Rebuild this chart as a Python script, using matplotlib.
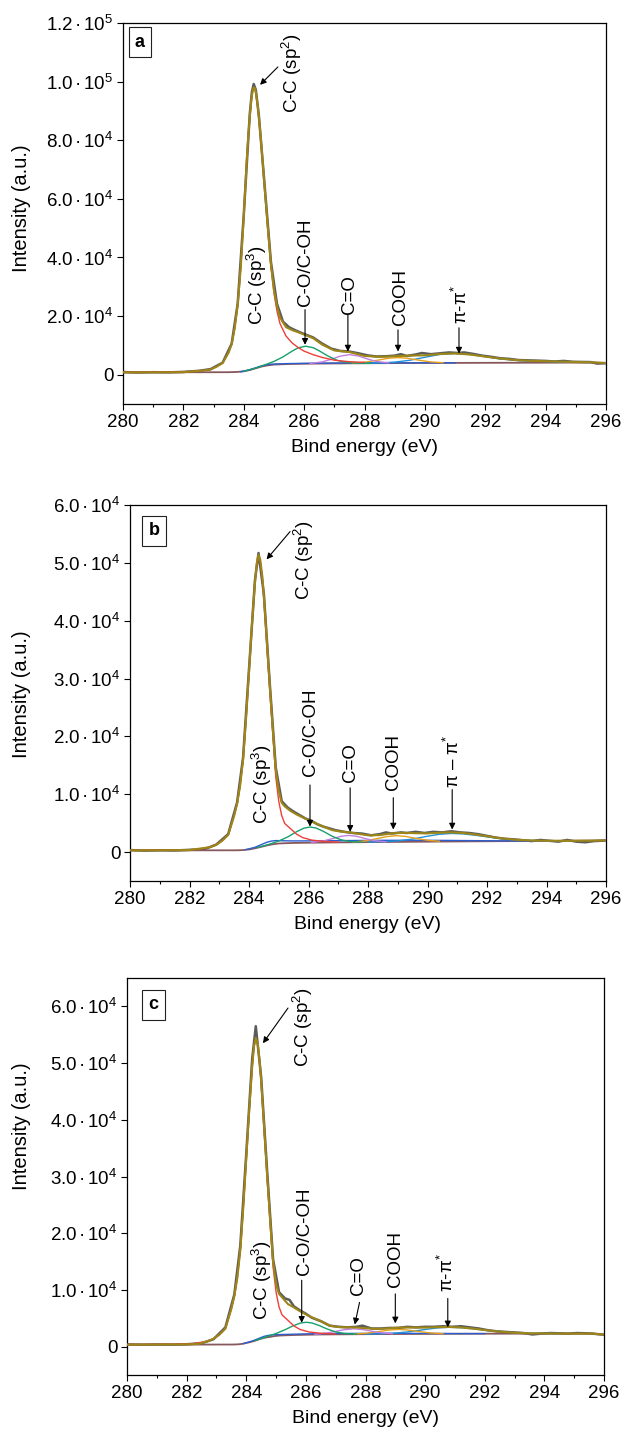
import matplotlib
matplotlib.use('Agg')
import matplotlib.pyplot as plt
import numpy as np
from matplotlib.ticker import MultipleLocator, FuncFormatter

plt.rcParams['font.family'] = ['Liberation Sans', 'DejaVu Sans']
plt.rcParams['mathtext.fontset'] = 'custom'
plt.rcParams['mathtext.rm'] = 'Liberation Sans'
plt.rcParams['mathtext.it'] = 'Liberation Sans:italic'
plt.rcParams['mathtext.bf'] = 'Liberation Sans:bold'

# ---------------- panel a ----------------
A_RAW_X = [280.0, 280.5, 281.0, 281.5, 282.0, 282.5, 282.9, 283.3, 283.6, 283.8, 284.0, 284.2, 284.27,
           284.33, 284.4, 284.5, 284.7, 284.9, 285.1, 285.3, 285.5, 285.7, 285.9, 286.1, 286.3, 286.6,
           286.9, 287.2, 287.5, 287.8, 288.1, 288.4, 288.7, 289.0, 289.2, 289.4, 289.7, 289.9, 290.2,
           290.5, 290.8, 291.1, 291.3, 291.6, 291.9, 292.2, 292.5, 292.8, 293.1, 293.4, 293.7, 294.0,
           294.3, 294.6, 294.9, 295.2, 295.5, 295.7, 296.0]
A_RAW_Y = [900, 750, 850, 800, 950, 1300, 1900, 4100, 10600, 24300, 54500, 89000, 96500,
           99200, 97200, 88500, 63500, 38500, 24200, 18100, 16200, 15200, 14300, 13500, 12700, 10600,
           8900, 8100, 7900, 7300, 6600, 6200, 6300, 6500, 7000, 6400, 6900, 7400, 7000,
           7300, 7600, 7400, 7600, 7100, 6500, 6100, 5600, 5400, 5000, 4900, 4800, 4700,
           4500, 4700, 4400, 4350, 4300, 3800, 3900]
A_ENV_X = [280.0, 281.0, 282.0, 282.6, 282.9, 283.1, 283.3, 283.5, 283.6, 283.7, 283.8, 283.9, 284.0,
           284.1, 284.15, 284.2, 284.25, 284.3, 284.33, 284.37, 284.4, 284.45, 284.5, 284.55, 284.6,
           284.65, 284.7, 284.8, 284.9, 285.0, 285.1, 285.2, 285.4, 285.6, 285.8, 286.0, 286.3, 286.6,
           287.0, 287.5, 288.0, 288.5, 289.0, 289.5, 290.0, 290.5, 291.0, 291.5, 292.0, 292.5, 293.0,
           293.5, 294.0, 294.5, 295.0, 295.5, 296.0]
A_ENV_Y = [800, 800, 850, 1380, 1760, 2740, 4000, 7570, 10470, 15780, 23990, 36520, 53960,
           73370, 81500, 88040, 93800, 97200, 98000, 97700, 96300, 92800, 88000, 82300, 76000,
           69500, 62900, 49800, 37700, 29000, 23300, 19500, 16200, 15230, 14500, 13700, 12450, 10250,
           8270, 7730, 6400, 6100, 6300, 6500, 6610, 7070, 7250, 6880, 6170, 5500, 5000,
           4750, 4600, 4450, 4330, 4250, 4000]
A_SP2_X = [280.0, 281.5, 282.2, 282.6, 282.9, 283.1, 283.3, 283.5, 283.6, 283.7, 283.8, 283.9, 284.0,
           284.1, 284.15, 284.2, 284.25, 284.3, 284.33, 284.37, 284.4, 284.45, 284.5, 284.55, 284.6,
           284.65, 284.7, 284.8, 284.9, 285.0, 285.1, 285.2, 285.4, 285.6, 285.8, 286.0, 286.3, 286.6,
           287.0, 287.5, 288.0]
A_SP2_Y = [810, 880, 1080, 1380, 1760, 2740, 4000, 7570, 10470, 15780, 23990, 36520, 53950,
           73350, 81450, 88000, 93700, 97100, 97900, 97600, 96180, 92600, 87840, 82100, 75760,
           69200, 62520, 49280, 36950, 27930, 21740, 17470, 13200, 10850, 9270, 8040, 6820, 5890,
           4950, 4430, 4190]
A_SP3_X = [283.9, 284.2, 284.45, 284.6, 284.75, 284.9, 285.1, 285.5, 286.5, 288.0, 289.5, 291.0]
A_SP3_Y = [1013, 1673, 2523, 3028, 3350, 3578, 3660, 3800, 3950, 4030, 4050, 4040]
A_COH_X = [284.0, 284.4, 284.7, 285.0, 285.3, 285.6, 285.8, 286.05, 286.3, 286.5, 286.8, 287.1, 287.4, 287.8, 288.2]
A_COH_Y = [1160, 2290, 3370, 4530, 6070, 8030, 9160, 9720, 9210, 8150, 6310, 4880, 4190, 3940, 3910]
A_CO_X = [286.2, 286.6, 286.9, 287.2, 287.5, 287.8, 288.1, 288.4, 288.8]
A_CO_Y = [3840, 4375, 5260, 6335, 6850, 6375, 5360, 4515, 4040]
A_COOH_X = [287.6, 288.0, 288.4, 288.8, 289.1, 289.4, 289.8, 290.2, 290.6]
A_COOH_Y = [3945, 4255, 4885, 5615, 5850, 5635, 4945, 4355, 4095]
A_PI_X = [288.0, 288.5, 289.0, 289.5, 290.0, 290.5, 291.0, 291.5, 292.0, 292.5, 293.0, 293.5, 294.0,
          294.5, 295.0, 295.5]
A_PI_Y = [3918, 4011, 4294, 4914, 5941, 6909, 7220, 6863, 6152, 5375, 4900, 4650, 4500,
          4350, 4250, 4180]
A_BG_X = [280.0, 283.5, 283.8, 284.0, 284.2, 284.4, 284.6, 284.8, 285.0, 285.5, 286.5, 288.0, 290.0,
          292.0, 294.0, 295.5, 296.0]
A_BG_Y = [800, 850, 950, 1150, 1600, 2200, 2800, 3200, 3450, 3650, 3800, 3900, 4000,
          4050, 4100, 4140, 4000]

# ---------------- panel b ----------------
B_RAW_X = [280.0, 280.5, 281.0, 281.5, 282.0, 282.5, 282.9, 283.3, 283.6, 283.8, 284.0, 284.2, 284.32,
           284.5, 284.7, 284.9, 285.1, 285.3, 285.5, 285.7, 285.9, 286.1, 286.3, 286.5, 286.7, 286.9,
           287.2, 287.5, 287.8, 288.1, 288.4, 288.6, 288.8, 289.1, 289.3, 289.6, 289.9, 290.2, 290.5,
           290.8, 291.1, 291.4, 291.7, 292.0, 292.3, 292.6, 292.9, 293.2, 293.5, 293.8, 294.1, 294.4,
           294.7, 295.0, 295.3, 295.6, 296.0]
B_RAW_Y = [350, 250, 320, 280, 380, 500, 1300, 3100, 8600, 16300, 31600, 47000, 51700,
           44600, 29000, 14600, 8800, 7700, 7000, 6400, 5800, 5400, 4800, 4400, 4100, 3800,
           3500, 3300, 3200, 2900, 3100, 3400, 3200, 3400, 3300, 3500, 3300, 3500, 3400,
           3600, 3400, 3300, 3100, 2800, 2500, 2300, 2200, 2050, 1900, 2100, 1950, 1800,
           2100, 1800, 1700, 1900, 2000]
B_ENV_X = [280.0, 281.0, 282.0, 282.7, 282.9, 283.1, 283.3, 283.5, 283.6, 283.7, 283.8, 283.9, 284.0,
           284.1, 284.2, 284.26, 284.32, 284.38, 284.45, 284.5, 284.6, 284.7, 284.8, 284.9, 285.0,
           285.1, 285.2, 285.4, 285.6, 285.8, 286.1, 286.5, 286.8, 287.1, 287.4, 287.7, 288.0, 288.4,
           288.8, 289.2, 289.6, 290.0, 290.4, 290.8, 291.2, 291.6, 292.0, 292.5, 293.0, 293.5, 294.0,
           294.5, 295.0, 295.5, 296.0]
B_ENV_Y = [300, 300, 360, 853, 1256, 1960, 2970, 6240, 8360, 11390, 15940, 23071, 31190,
           39387, 46594, 49900, 51399, 50500, 47600, 44295, 36486, 28636, 21259, 14200, 10600,
           8500, 7900, 7100, 6500, 6000, 5300, 4400, 3791, 3529, 3392, 3133, 2897, 2936,
           3240, 3331, 3262, 3232, 3357, 3405, 3300, 3047, 2734, 2360, 2121, 2002, 1965,
           1949, 1965, 1985, 2000]
B_SP2_X = [280.0, 281.5, 282.2, 282.7, 282.9, 283.1, 283.3, 283.5, 283.6, 283.7, 283.8, 283.9, 284.0,
           284.1, 284.2, 284.26, 284.32, 284.38, 284.45, 284.5, 284.6, 284.7, 284.8, 284.9, 285.0,
           285.1, 285.2, 285.4, 285.6, 285.8, 286.1, 286.5, 287.0]
B_SP2_Y = [300, 340, 450, 853, 1256, 1960, 2970, 6240, 8360, 11390, 15940, 23040, 31130,
           39280, 46420, 49600, 51100, 50200, 47200, 43780, 35860, 27910, 20460, 12990, 8770,
           6290, 4950, 4020, 3100, 2515, 2080, 1850, 1720]
B_SP3_X = [283.9, 284.2, 284.45, 284.6, 284.75, 284.9, 285.1, 285.4, 285.8, 286.5, 287.5, 288.5,
           289.5, 290.5, 291.5, 292.5, 293.5]
B_SP3_Y = [431, 824, 1374, 1696, 1900, 1990, 1960, 1930, 1930, 1960, 2000, 2030,
           2040, 2020, 1980, 1940, 1935]
B_COH_X = [284.3, 284.7, 285.0, 285.3, 285.6, 285.85, 286.05, 286.25, 286.5, 286.8, 287.1, 287.4, 287.8]
B_COH_Y = [797, 1382, 1917, 2611, 3523, 4142, 4330, 4167, 3583, 2726, 2109, 1812, 1707]
B_CO_X = [286.1, 286.5, 286.8, 287.1, 287.35, 287.6, 287.9, 288.2, 288.6]
B_CO_Y = [1683, 1933, 2315, 2730, 2880, 2746, 2350, 1988, 1768]
B_COOH_X = [287.5, 287.9, 288.3, 288.65, 288.95, 289.25, 289.6, 290.0, 290.4]
B_COOH_Y = [1744, 1933, 2322, 2695, 2835, 2720, 2377, 2038, 1869]
B_PI_X = [288.0, 288.5, 289.0, 289.5, 290.0, 290.4, 290.8, 291.2, 291.6, 292.0, 292.5, 293.0, 293.5,
          294.0, 294.5]
B_PI_Y = [1731, 1788, 1929, 2248, 2744, 3078, 3220, 3140, 2912, 2639, 2305, 2086, 1982,
          1950, 1949]
B_BG_X = [280.0, 283.5, 283.7, 283.8, 283.9, 284.0, 284.1, 284.2, 284.32, 284.4, 284.5, 284.6, 284.7,
          284.8, 284.9, 285.0, 285.2, 285.5, 286.5, 288.0, 290.0, 292.0, 294.0, 296.0]
B_BG_Y = [300, 305, 320, 350, 400, 450, 550, 650, 800, 900, 1020, 1150, 1250,
          1350, 1420, 1480, 1530, 1580, 1650, 1720, 1800, 1870, 1930, 2000]

# ---------------- panel c ----------------
C_RAW_X = [280.0, 280.5, 281.0, 281.5, 282.0, 282.5, 282.9, 283.3, 283.6, 283.8, 284.0, 284.2, 284.32,
           284.5, 284.7, 284.9, 285.1, 285.3, 285.45, 285.6, 285.8, 286.0, 286.2, 286.5, 286.8, 287.1,
           287.4, 287.7, 287.9, 288.2, 288.5, 288.8, 289.1, 289.4, 289.7, 290.0, 290.3, 290.6, 290.9,
           291.2, 291.5, 291.8, 292.1, 292.4, 292.7, 293.0, 293.3, 293.6, 293.9, 294.2, 294.5, 294.8,
           295.1, 295.4, 295.6, 295.8, 296.0]
C_RAW_Y = [400, 330, 380, 350, 420, 600, 1300, 3400, 9200, 17800, 34000, 50800, 56500,
           47500, 31000, 15400, 9600, 8500, 8250, 7100, 6400, 5800, 5100, 4500, 3700, 3500,
           3400, 3500, 3700, 3200, 3200, 3300, 3300, 3500, 3400, 3500, 3500, 3600, 3500,
           3600, 3400, 3200, 2900, 2700, 2600, 2500, 2400, 2150, 2300, 2400, 2350, 2300,
           2400, 2350, 2300, 2200, 2100]
C_ENV_X = [280.0, 281.0, 282.0, 282.4, 282.7, 282.9, 283.1, 283.3, 283.5, 283.6, 283.7, 283.8, 283.9,
           284.0, 284.1, 284.2, 284.26, 284.32, 284.38, 284.45, 284.5, 284.6, 284.7, 284.8, 284.9,
           285.0, 285.1, 285.2, 285.4, 285.6, 285.8, 286.1, 286.5, 286.8, 287.1, 287.4, 287.7, 288.0,
           288.4, 288.8, 289.2, 289.6, 290.0, 290.4, 290.8, 291.2, 291.6, 292.0, 292.5, 293.0, 293.5,
           294.0, 294.5, 295.0, 295.6, 295.8, 296.0]
C_ENV_Y = [360, 360, 400, 480, 945, 1371, 2116, 3180, 6650, 8890, 12100, 16940, 24476,
           33140, 41780, 49400, 53000, 54430, 53600, 50300, 46880, 38590, 30280, 22440, 15000,
           11000, 9300, 8700, 7500, 6900, 6250, 5400, 4500, 3700, 3450, 3400, 3380, 3236,
           3113, 3237, 3375, 3382, 3365, 3433, 3472, 3379, 3180, 2926, 2640, 2443, 2350,
           2316, 2303, 2300, 2300, 2200, 2150]
C_SP2_X = [280.0, 281.5, 282.2, 282.7, 282.9, 283.1, 283.3, 283.5, 283.6, 283.7, 283.8, 283.9, 284.0,
           284.1, 284.2, 284.26, 284.32, 284.38, 284.45, 284.5, 284.6, 284.7, 284.8, 284.9, 285.0,
           285.1, 285.2, 285.4, 285.6, 285.8, 286.1, 286.5, 287.0]
C_SP2_Y = [360, 400, 520, 945, 1371, 2116, 3180, 6650, 8890, 12100, 16940, 24460, 33100,
           41720, 49310, 52800, 54280, 53400, 50000, 46620, 38260, 29850, 21940, 14060, 9610,
           7000, 5600, 4630, 3650, 3040, 2590, 2360, 2220]
C_SP3_X = [283.9, 284.2, 284.45, 284.6, 284.75, 284.9, 285.1, 285.4, 286.0, 287.0, 288.0, 289.0,
           290.0, 291.0, 292.0]
C_SP3_Y = [536, 987, 1507, 1823, 1990, 2093, 2130, 2170, 2250, 2320, 2340, 2350,
           2330, 2305, 2295]
C_COH_X = [284.3, 284.7, 285.0, 285.3, 285.55, 285.8, 286.0, 286.2, 286.45, 286.7, 287.0, 287.3, 287.7]
C_COH_Y = [1068, 1784, 2322, 2979, 3620, 4139, 4300, 4179, 3720, 3139, 2592, 2314, 2208]
C_CO_X = [286.3, 286.7, 287.0, 287.3, 287.6, 287.9, 288.2, 288.5, 288.9]
C_CO_Y = [2187, 2406, 2692, 2998, 3140, 3015, 2728, 2461, 2284]
C_COOH_X = [287.6, 288.0, 288.4, 288.8, 289.1, 289.4, 289.8, 290.2, 290.6]
C_COOH_Y = [2225, 2349, 2620, 2928, 3033, 2946, 2658, 2402, 2294]
C_PI_X = [288.0, 288.5, 289.0, 289.5, 290.0, 290.4, 290.8, 291.2, 291.6, 292.0, 292.5, 293.0, 293.5,
          294.0, 294.5]
C_PI_Y = [2209, 2259, 2385, 2645, 3025, 3298, 3412, 3344, 3155, 2911, 2630, 2443, 2350,
          2316, 2303]
C_BG_X = [280.0, 283.5, 283.6, 283.7, 283.8, 283.9, 284.0, 284.1, 284.2, 284.32, 284.4, 284.5, 284.6,
          284.7, 284.8, 284.9, 285.0, 285.2, 285.6, 286.5, 288.0, 290.0, 292.0, 294.0, 295.6, 295.8,
          296.0]
C_BG_Y = [360, 370, 380, 400, 450, 520, 650, 760, 900, 1080, 1250, 1400, 1550,
          1650, 1720, 1820, 1900, 1980, 2050, 2150, 2200, 2250, 2280, 2300, 2300, 2200,
          2150]

PANEL_LETTERS = ['a', 'b', 'c']
Y_MAX = [1.2e5, 6e4, 6.5e4]
Y_MIN = [-1e4, -5e3, -5e3]
Y_STEP = [2e4, 1e4, 1e4]
Y_TOP_TICK = [1.2e5, 6e4, 6e4]

PEAK_LABELS = ['C-C (sp$^{2}$)', 'C-C (sp$^{3}$)', 'C-O/C-OH', 'C=O', 'COOH']
PI_LABELS = ['π-π$^{*}$', 'π – π$^{*}$', 'π-π$^{*}$']

W, H = 639, 1442
fig = plt.figure(figsize=(W / 100, H / 100), dpi=100)

# axes boxes in pixels: left, top, right, bottom, and y-label centre
boxes = [(123, 23, 606, 404), (130, 505, 606, 881), (127, 978, 604, 1375)]
ylab_y = [208, 694, 1126]

C_RAW = '#5b5b5b'
C_ENV = '#9c8618'
C_SP2 = '#ee4038'
C_SP3 = '#2b5fd0'
C_COH = '#17a06c'
C_CO = '#c47fe4'
C_COOH = '#e6a21e'
C_PI = '#2390d6'
C_BG = '#87585c'


def sci(v, pos):
    if abs(v) < 1e-9:
        return '0'
    e = int(np.floor(np.log10(abs(v)) + 1e-9))
    m = v / 10 ** e
    return r'$\mathregular{%.1f\,·\,10^{%d}}$' % (m, e)


def draw(i, raw, env, sp2, sp3, coh, co, cooh, pi, bg, notes):
    l, t, r, b = boxes[i]
    ax = fig.add_axes([l / W, 1 - b / H, (r - l) / W, (b - t) / H])
    ax.plot(raw[0], raw[1], color=C_RAW, lw=1.8, zorder=2)
    ax.plot(bg[0], bg[1], color=C_BG, lw=1.3, zorder=3)
    ax.plot(sp3[0], sp3[1], color=C_SP3, lw=1.0, zorder=3)
    ax.plot(pi[0], pi[1], color=C_PI, lw=1.0, zorder=4)
    ax.plot(cooh[0], cooh[1], color=C_COOH, lw=1.0, zorder=4)
    ax.plot(co[0], co[1], color=C_CO, lw=1.0, zorder=4)
    ax.plot(coh[0], coh[1], color=C_COH, lw=1.0, zorder=4)
    ax.plot(sp2[0], sp2[1], color=C_SP2, lw=1.0, zorder=4)
    ax.plot(env[0], env[1], color=C_ENV, lw=1.5, zorder=5)

    ax.set_xlim(280, 296)
    ax.set_ylim(Y_MIN[i], Y_MAX[i])
    ax.xaxis.set_major_locator(MultipleLocator(2))
    ax.xaxis.set_minor_locator(MultipleLocator(1))
    ax.set_yticks(np.arange(0, Y_TOP_TICK[i] + 1, Y_STEP[i]))
    ax.yaxis.set_major_formatter(FuncFormatter(sci))
    ax.tick_params(which='major', direction='out', length=4, width=0.8, labelsize=13.5, pad=3)
    ax.tick_params(which='minor', direction='out', length=2.5, width=0.8)
    for s in ax.spines.values():
        s.set_linewidth(0.9)
    ax.set_xlabel('Bind energy (eV)', fontsize=14, labelpad=6)
    fig.text(22 / W, 1 - ylab_y[i] / H, 'Intensity (a.u.)', rotation=90,
             ha='center', va='center', fontsize=14.5)

    # panel letter
    ax.text(notes['letter'][0], notes['letter'][1], PANEL_LETTERS[i], transform=ax.transAxes,
            fontsize=13, fontweight='bold', ha='center', va='center',
            bbox=dict(boxstyle='square,pad=0.35', fc='white', ec='#222222', lw=0.8), zorder=6)

    for txt, (tx, ty), arr in notes['labels']:
        ax.text(tx, ty, txt, rotation=90, ha='center', va='center', fontsize=13.5, zorder=6)
        if arr is not None:
            ax.annotate('', xy=arr[1], xytext=arr[0],
                        arrowprops=dict(arrowstyle='-|>', color='black', lw=0.8,
                                        mutation_scale=9, shrinkA=0, shrinkB=0), zorder=6)
    return ax


notes_a = {
    'letter': (0.035, 0.95),
    'labels': [
        (PEAK_LABELS[0], (285.6, 103e3), ((285.13, 105e3), (284.54, 98.9e3))),
        (PEAK_LABELS[1], (284.44, 30.7e3), None),
        (PEAK_LABELS[2], (286.06, 38.5e3), ((286.03, 22.2e3), (286.03, 10.2e3))),
        (PEAK_LABELS[3], (287.49, 27.3e3), ((287.45, 20.5e3), (287.45, 7.9e3))),
        (PEAK_LABELS[4], (289.18, 26.6e3), ((289.11, 15.3e3), (289.11, 7.9e3))),
        (PI_LABELS[0], (291.2, 24e3), ((291.13, 16e3), (291.13, 7.2e3))),
    ],
}
notes_b = {
    'letter': (0.051, 0.931),
    'labels': [
        (PEAK_LABELS[0], (285.85, 50.4e3), ((285.38, 55.4e3), (284.59, 50.6e3))),
        (PEAK_LABELS[1], (284.44, 11.8e3), None),
        (PEAK_LABELS[2], (286.08, 20.8e3), ((286.05, 11.6e3), (286.05, 4.4e3))),
        (PEAK_LABELS[3], (287.4, 15.5e3), ((287.4, 11.1e3), (287.4, 3.5e3))),
        (PEAK_LABELS[4], (288.87, 15.6e3), ((288.85, 9.4e3), (288.85, 3.9e3))),
        (PI_LABELS[1], (290.86, 15.8e3), ((290.83, 10.8e3), (290.83, 3.9e3))),
    ],
}
notes_c = {
    'letter': (0.055, 0.932),
    'labels': [
        (PEAK_LABELS[0], (285.89, 56.4e3), ((285.4, 59.7e3), (284.56, 53.5e3))),
        (PEAK_LABELS[1], (284.52, 11.8e3), None),
        (PEAK_LABELS[2], (285.96, 20.3e3), ((285.86, 11.7e3), (285.86, 4.2e3))),
        (PEAK_LABELS[3], (287.78, 12.6e3), ((287.8, 7.8e3), (287.64, 3.9e3))),
        (PEAK_LABELS[4], (289.0, 15.4e3), ((289.0, 9.3e3), (289.0, 4.1e3))),
        (PI_LABELS[2], (290.74, 13.1e3), ((290.76, 8.5e3), (290.76, 3.4e3))),
    ],
}

draw(0, (A_RAW_X, A_RAW_Y), (A_ENV_X, A_ENV_Y), (A_SP2_X, A_SP2_Y), (A_SP3_X, A_SP3_Y),
     (A_COH_X, A_COH_Y), (A_CO_X, A_CO_Y), (A_COOH_X, A_COOH_Y), (A_PI_X, A_PI_Y),
     (A_BG_X, A_BG_Y), notes_a)
draw(1, (B_RAW_X, B_RAW_Y), (B_ENV_X, B_ENV_Y), (B_SP2_X, B_SP2_Y), (B_SP3_X, B_SP3_Y),
     (B_COH_X, B_COH_Y), (B_CO_X, B_CO_Y), (B_COOH_X, B_COOH_Y), (B_PI_X, B_PI_Y),
     (B_BG_X, B_BG_Y), notes_b)
draw(2, (C_RAW_X, C_RAW_Y), (C_ENV_X, C_ENV_Y), (C_SP2_X, C_SP2_Y), (C_SP3_X, C_SP3_Y),
     (C_COH_X, C_COH_Y), (C_CO_X, C_CO_Y), (C_COOH_X, C_COOH_Y), (C_PI_X, C_PI_Y),
     (C_BG_X, C_BG_Y), notes_c)

fig.savefig('out.png', dpi=100)
